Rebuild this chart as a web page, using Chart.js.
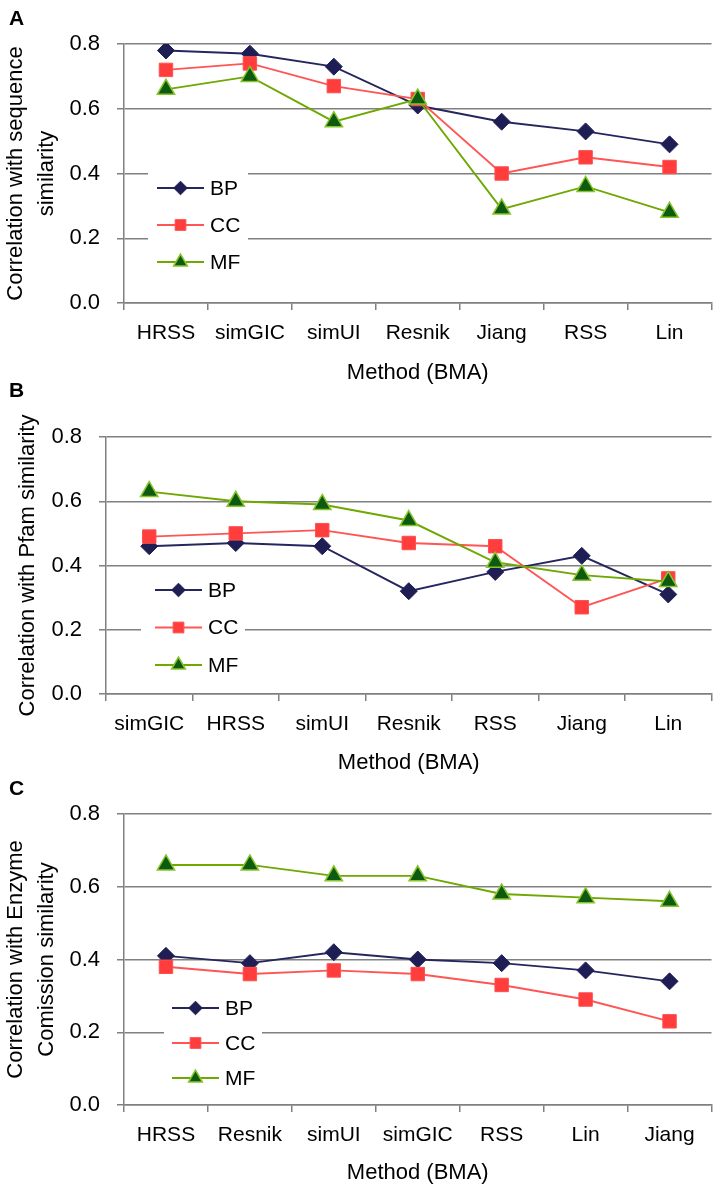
<!DOCTYPE html>
<html>
<head>
<meta charset="utf-8">
<script src="https://cdn.jsdelivr.net/npm/chart.js"></script>
<style>
  body { margin: 0; background: #fff; width: 723px; height: 1189px; position: relative; overflow: hidden;
         font-family: "Liberation Sans", Arial, sans-serif; }
  .panel { position: absolute; left: 0; width: 723px; }
  .tag { position: absolute; left: 9px; font-weight: bold; font-size: 21px; line-height: 1; z-index: 2; }
</style>
</head>
<body>
<div class="panel" style="top:0;height:390px"><canvas id="chartA"></canvas></div>
<div class="panel" style="top:390px;height:390px"><canvas id="chartB"></canvas></div>
<div class="panel" style="top:780px;height:409px"><canvas id="chartC"></canvas></div>
<div class="tag" style="top:7px">A</div>
<div class="tag" style="top:379px">B</div>
<div class="tag" style="top:777px">C</div>

<script>
// Panel A - sequence similarity
const methodsA = ['HRSS', 'simGIC', 'simUI', 'Resnik', 'Jiang', 'RSS', 'Lin'];
const bpA = [0.78, 0.77, 0.73, 0.61, 0.56, 0.53, 0.49];
const ccA = [0.72, 0.74, 0.67, 0.63, 0.40, 0.45, 0.42];
const mfA = [0.66, 0.70, 0.56, 0.63, 0.29, 0.36, 0.28];

// Panel B - Pfam similarity
const methodsB = ['simGIC', 'HRSS', 'simUI', 'Resnik', 'RSS', 'Jiang', 'Lin'];
const bpB = [0.46, 0.47, 0.46, 0.32, 0.38, 0.43, 0.31];
const ccB = [0.49, 0.50, 0.51, 0.47, 0.46, 0.27, 0.36];
const mfB = [0.63, 0.60, 0.59, 0.54, 0.41, 0.37, 0.35];

// Panel C - Enzyme Comission similarity
const methodsC = ['HRSS', 'Resnik', 'simUI', 'simGIC', 'RSS', 'Lin', 'Jiang'];
const bpC = [0.41, 0.39, 0.42, 0.40, 0.39, 0.37, 0.34];
const ccC = [0.38, 0.36, 0.37, 0.36, 0.33, 0.29, 0.23];
const mfC = [0.66, 0.66, 0.63, 0.63, 0.58, 0.57, 0.56];

const yTicks = [0, 0.2, 0.4, 0.6, 0.8];
const xTitle = 'Method (BMA)';

const FONT = '"Liberation Sans", Arial, sans-serif';
const GRID = '#808080';

// Legend drawn inside the plot on a white patch (like the Excel original)
const boxLegend = {
    id: 'boxLegend',
    beforeDatasetsDraw(chart, args, opts) {
        const ctx = chart.ctx;
        ctx.save();
        ctx.fillStyle = '#fff';
        ctx.fillRect(opts.box[0], opts.box[1], opts.box[2], opts.box[3]);
        chart.data.datasets.forEach((ds, i) => {
            const y = opts.y + i * opts.gap;
            ctx.strokeStyle = ds.borderColor;
            ctx.lineWidth = ds.borderWidth;
            ctx.beginPath();
            ctx.moveTo(opts.x, y);
            ctx.lineTo(opts.x + 47, y);
            ctx.stroke();
            ctx.fillStyle = ds.pointBackgroundColor;
            ctx.strokeStyle = ds.pointBorderColor;
            ctx.lineWidth = ds.pointBorderWidth;
            Chart.helpers.drawPoint(ctx, {
                pointStyle: ds.pointStyle,
                radius: ds.pointRadius * 0.8,
                rotation: 0,
                borderWidth: ds.pointBorderWidth
            }, opts.x + 23.5, y);
            ctx.fillStyle = '#000';
            ctx.font = '21px ' + FONT;
            ctx.textBaseline = 'middle';
            ctx.fillText(ds.label, opts.textX, y + 1);
        });
        ctx.restore();
    }
};

function makeDatasets(bp, cc, mf) {
    return [{
        label: 'BP',
        data: bp,
        borderColor: '#26265e',
        borderWidth: 1.9,
        pointStyle: 'rectRot',
        pointRadius: 8.5,
        pointBackgroundColor: '#1e1e55',
        pointBorderColor: '#1e1e55',
        pointBorderWidth: 1,
        order: 3
    }, {
        label: 'CC',
        data: cc,
        borderColor: '#ff5555',
        borderWidth: 1.9,
        pointStyle: 'rect',
        pointRadius: 9.5,
        pointBackgroundColor: '#ff3d3d',
        pointBorderColor: '#ff5050',
        pointBorderWidth: 1,
        order: 2
    }, {
        label: 'MF',
        data: mf,
        borderColor: '#6ea800',
        borderWidth: 1.9,
        pointStyle: 'triangle',
        pointRadius: 10,
        pointBackgroundColor: '#0d5a10',
        pointBorderColor: '#86c42a',
        pointBorderWidth: 1.5,
        order: 1
    }];
}

function makeChart(id, labels, bp, cc, mf, p) {
    const ctx = document.getElementById(id).getContext('2d');
    return new Chart(ctx, {
        type: 'line',
        data: { labels: labels, datasets: makeDatasets(bp, cc, mf) },
        options: {
            responsive: true,
            maintainAspectRatio: false,
            animation: false,
            events: [],
            layout: { padding: { top: p.top, left: 0, right: 4, bottom: p.bottom } },
            elements: { line: { tension: 0 } },
            plugins: {
                legend: { display: false },
                tooltip: { enabled: false },
                boxLegend: p.legend
            },
            scales: {
                x: {
                    type: 'category',
                    offset: true,
                    afterFit: s => { s.height = p.xHeight; },
                    grid: {
                        offset: true,
                        drawOnChartArea: false,
                        drawTicks: true,
                        tickLength: 7,
                        color: GRID,
                        lineWidth: 1.5
                    },
                    border: { display: true, color: GRID, width: 1.5 },
                    ticks: { color: '#000', padding: 11, maxRotation: 0, font: { family: FONT, size: 21 } },
                    title: {
                        display: true,
                        text: xTitle,
                        color: '#000',
                        padding: 0,
                        font: { family: FONT, size: 22, lineHeight: 1.42 }
                    }
                },
                y: {
                    min: 0,
                    max: 0.8,
                    afterFit: s => { s.width = p.yWidth; },
                    afterBuildTicks: s => { s.ticks = yTicks.map(v => ({ value: v })); },
                    grid: { color: GRID, lineWidth: 1.5, tickLength: 7 },
                    border: { display: true, color: GRID, width: 1.5 },
                    ticks: {
                        color: '#000',
                        padding: 17,
                        font: { family: FONT, size: 22 },
                        callback: v => Number(v).toFixed(1)
                    },
                    title: {
                        display: true,
                        text: p.yTitle,
                        color: '#000',
                        padding: { top: p.yTitlePad, bottom: 0 },
                        font: { family: FONT, size: 22, lineHeight: 1.42 }
                    }
                }
            }
        },
        plugins: [boxLegend]
    });
}

makeChart('chartA', methodsA, bpA, ccA, mfA, {
    top: 44, bottom: 1, xHeight: 86, yWidth: 124, yTitlePad: 0,
    yTitle: ['Correlation with sequence', 'similarity'],
    legend: { box: [148, 168, 100, 110], x: 157, y: 188, gap: 37, textX: 210 }
});

makeChart('chartB', methodsB, bpB, ccB, mfB, {
    top: 47, bottom: 1.5, xHeight: 84.5, yWidth: 106, yTitlePad: 12.4,
    yTitle: 'Correlation with Pfam similarity',
    legend: { box: [141, 182, 104, 108], x: 155, y: 200, gap: 37.5, textX: 208 }
});

makeChart('chartC', methodsC, bpC, ccC, mfC, {
    top: 34, bottom: 0, xHeight: 84, yWidth: 124, yTitlePad: 0,
    yTitle: ['Correlation with Enzyme', 'Comission similarity'],
    legend: { box: [164, 210, 98, 106], x: 172, y: 228, gap: 35, textX: 225 }
});
</script>
</body>
</html>
